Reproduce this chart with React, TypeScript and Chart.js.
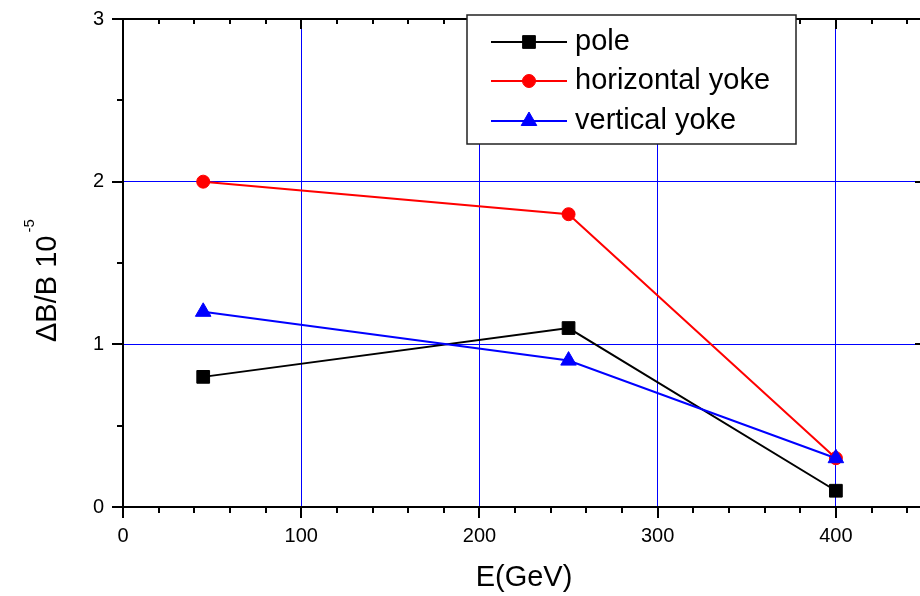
import React, { useEffect, useRef } from 'react';
import { Chart, registerables } from 'chart.js';
import { drawPoint } from 'chart.js/helpers';

Chart.register(...registerables);

const energies = [45, 250, 400];
const poleValues = [0.8, 1.1, 0.1];
const horizontalYokeValues = [2.0, 1.8, 0.3];
const verticalYokeValues = [1.2, 0.9, 0.3];
const seriesNames = ['pole', 'horizontal yoke', 'vertical yoke'];

const xTickValues = [0, 20, 40, 60, 80, 100, 120, 140, 160, 180, 200, 220, 240, 260, 280, 300, 320, 340, 360, 380, 400, 420, 440];
const xMajorTicks = [0, 100, 200, 300, 400];
const yTickValues = [0, 0.5, 1, 1.5, 2, 2.5, 3];
const yMajorTicks = [0, 1, 2, 3];

const xAxisTitle = 'E(GeV)';
const yAxisTitle = 'ΔB/B 10';
const yAxisTitleExponent = '-5';

const FONT = '"Liberation Sans", Arial, Helvetica, sans-serif';

const framePlugin = {
  id: 'frame',
  afterDatasetsDraw(chart: any) {
    const { ctx, chartArea, scales } = chart;
    const { left, right, top, bottom } = chartArea;
    const xs = scales.x;
    const ys = scales.y;
    ctx.save();
    ctx.strokeStyle = '#000';
    ctx.lineWidth = 2;
    ctx.beginPath();
    ctx.rect(left, top, right - left, bottom - top);
    xTickValues.forEach((v) => {
      const px = Math.round(xs.getPixelForValue(v));
      const major = xMajorTicks.includes(v);
      ctx.moveTo(px, bottom);
      ctx.lineTo(px, bottom + (major ? 11 : 6));
      ctx.moveTo(px, top);
      ctx.lineTo(px, top + (major ? 10 : 5));
    });
    yTickValues.forEach((v) => {
      const py = Math.round(ys.getPixelForValue(v));
      const major = yMajorTicks.includes(v);
      ctx.moveTo(left, py);
      ctx.lineTo(left - (major ? 11 : 6), py);
      ctx.moveTo(right, py);
      ctx.lineTo(right - (major ? 10 : 5), py);
    });
    ctx.stroke();

    // axis titles
    ctx.fillStyle = '#000';
    ctx.font = `29px ${FONT}`;
    ctx.textAlign = 'center';
    ctx.textBaseline = 'alphabetic';
    ctx.fillText(xAxisTitle, 524, 586);

    ctx.save();
    ctx.translate(56, 342);
    ctx.rotate(-Math.PI / 2);
    ctx.textAlign = 'left';
    ctx.font = `29px ${FONT}`;
    ctx.fillText(yAxisTitle, 0, 0);
    const w = ctx.measureText(yAxisTitle).width;
    ctx.font = `15px ${FONT}`;
    ctx.fillText(yAxisTitleExponent, w + 3, -22);
    ctx.restore();

    // legend
    const bx = 467, by = 15, bw = 329, bh = 129;
    ctx.fillStyle = '#fff';
    ctx.fillRect(bx, by, bw, bh);
    ctx.strokeStyle = '#222';
    ctx.lineWidth = 1.5;
    ctx.strokeRect(bx, by, bw, bh);
    const rows = [42, 81, 121];
    chart.data.datasets.forEach((ds: any, i: number) => {
      const ry = rows[i];
      ctx.strokeStyle = ds.borderColor;
      ctx.lineWidth = 2;
      ctx.beginPath();
      ctx.moveTo(491, ry);
      ctx.lineTo(567, ry);
      ctx.stroke();
      ctx.fillStyle = ds.pointBackgroundColor;
      ctx.strokeStyle = ds.pointBorderColor;
      ctx.lineWidth = 1;
      drawPoint(ctx, { pointStyle: ds.pointStyle, radius: ds.pointRadius, rotation: 0, borderWidth: 1 }, 529, ry);
      ctx.fillStyle = '#000';
      ctx.font = `29px ${FONT}`;
      ctx.textAlign = 'left';
      ctx.textBaseline = 'middle';
      ctx.fillText(seriesNames[i], 575, ry);
    });
    ctx.restore();
  },
};

const zeroPadding = (s: any) => {
  s.paddingTop = 0;
  s.paddingBottom = 0;
  s.paddingLeft = 0;
  s.paddingRight = 0;
};

export default function App() {
  const canvasRef = useRef<HTMLCanvasElement | null>(null);

  useEffect(() => {
    if (!canvasRef.current) return;
    const toPoints = (vals: number[]) => energies.map((e, i) => ({ x: e, y: vals[i] }));
    const chart = new Chart(canvasRef.current, {
      type: 'line',
      data: {
        datasets: [
          {
            label: seriesNames[0],
            data: toPoints(poleValues),
            borderColor: '#000000',
            backgroundColor: '#000000',
            pointBackgroundColor: '#000000',
            pointBorderColor: '#000000',
            pointStyle: 'rect',
            pointRadius: 9,
            pointHoverRadius: 9,
            pointBorderWidth: 1,
            borderWidth: 2,
            order: 2,
          },
          {
            label: seriesNames[1],
            data: toPoints(horizontalYokeValues),
            borderColor: '#ff0000',
            backgroundColor: '#ff0000',
            pointBackgroundColor: '#ff0000',
            pointBorderColor: '#ff0000',
            pointStyle: 'circle',
            pointRadius: 6.5,
            pointHoverRadius: 6.5,
            pointBorderWidth: 1,
            borderWidth: 2,
            order: 1,
          },
          {
            label: seriesNames[2],
            data: toPoints(verticalYokeValues),
            borderColor: '#0000ff',
            backgroundColor: '#0000ff',
            pointBackgroundColor: '#0000ff',
            pointBorderColor: '#0000ff',
            pointStyle: 'triangle',
            pointRadius: 9,
            pointHoverRadius: 9,
            pointBorderWidth: 1,
            borderWidth: 2,
            order: 0,
          },
        ],
      },
      options: {
        responsive: false,
        animation: false,
        devicePixelRatio: 1,
        layout: { padding: { left: 0, right: 0, top: 19, bottom: 0 } },
        plugins: {
          legend: { display: false },
          tooltip: { enabled: false },
        },
        scales: {
          x: {
            type: 'linear',
            min: 0,
            max: 450,
            afterBuildTicks: (s: any) => {
              s.ticks = xTickValues.map((v) => ({ value: v }));
            },
            afterFit: (s: any) => {
              s.height = 89;
              zeroPadding(s);
            },
            grid: {
              color: (c: any) =>
                c.tick && xMajorTicks.includes(c.tick.value) && c.tick.value !== 0 ? '#0000ff' : 'rgba(0,0,0,0)',
              lineWidth: 1,
              drawTicks: false,
            },
            border: { display: false },
            ticks: {
              autoSkip: false,
              maxRotation: 0,
              padding: 17,
              color: '#000',
              font: { family: FONT, size: 20 },
              callback: (v: any) => (xMajorTicks.includes(Number(v)) ? String(v) : ''),
            },
          },
          y: {
            type: 'linear',
            min: 0,
            max: 3,
            afterBuildTicks: (s: any) => {
              s.ticks = yTickValues.map((v) => ({ value: v }));
            },
            afterFit: (s: any) => {
              s.width = 123;
              zeroPadding(s);
            },
            grid: {
              color: (c: any) =>
                c.tick && (c.tick.value === 1 || c.tick.value === 2) ? '#0000ff' : 'rgba(0,0,0,0)',
              lineWidth: 1,
              drawTicks: false,
            },
            border: { display: false },
            ticks: {
              autoSkip: false,
              padding: 19,
              color: '#000',
              font: { family: FONT, size: 20 },
              callback: (v: any) => (yMajorTicks.includes(Number(v)) ? String(v) : ''),
            },
          },
        },
      },
      plugins: [framePlugin],
    } as any);
    return () => chart.destroy();
  }, []);

  return (
    <div style={{ position: 'absolute', left: 0, top: 0, width: 920, height: 596, overflow: 'hidden', background: '#fff' }}>
      <canvas ref={canvasRef} width={935} height={596} style={{ display: 'block', width: 935, height: 596 }} />
    </div>
  );
}
